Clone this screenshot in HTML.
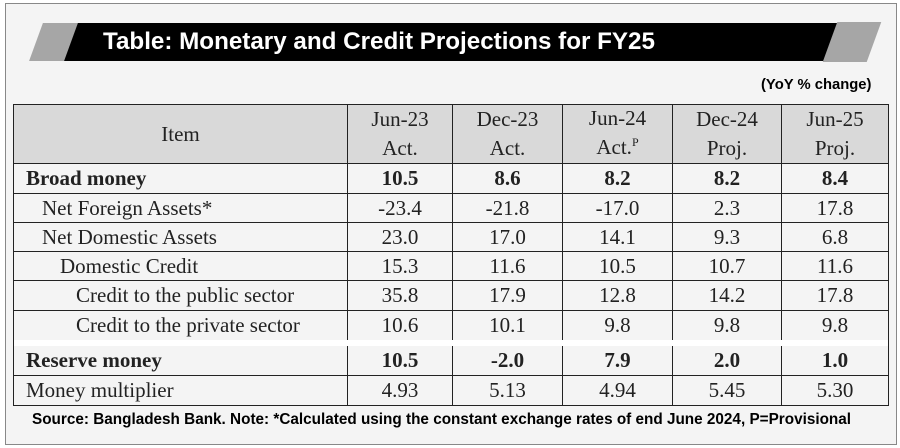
<!DOCTYPE html>
<html><head><meta charset="utf-8"><style>
body{margin:0;width:900px;height:448px;background:#fff;position:relative;overflow:hidden;font-family:"Liberation Serif",serif}
.box{position:absolute;left:5px;top:3px;width:890px;height:440px;border:1px solid #888;background:#f4f4f4}
.bar{position:absolute;left:71px;top:23px;width:760px;height:38px;background:#000;transform:skewX(-20deg)}
.g1{position:absolute;left:36px;top:23px;width:40px;height:38px;background:#a6a6a6;transform:skewX(-20deg)}
.g2{position:absolute;left:830px;top:22px;width:44px;height:40px;background:#a6a6a6;transform:skewX(-20deg)}
.title{position:absolute;left:103px;top:28px;color:#fff;font:bold 24.2px "Liberation Sans",sans-serif}
.yoy{position:absolute;left:761px;top:77px;font:bold 14.8px "Liberation Sans",sans-serif}
.src{position:absolute;left:32px;top:411px;font:bold 15.3px "Liberation Sans",sans-serif}
.c{position:absolute;border:1px solid #222;box-sizing:border-box;font-size:21px;color:#222;display:flex;align-items:center;justify-content:center;line-height:29px;text-align:center}
.l{justify-content:flex-start}
.h{background:#d9d9d9}
.b{font-weight:bold}
</style></head><body>
<div class="box"></div>
<div class="g1"></div><div class="bar"></div><div class="g2"></div>
<div class="title">Table: Monetary and Credit Projections for FY25</div>
<div class="yoy">(YoY % change)</div>
<div id="t"></div>
<div class="src">Source: Bangladesh Bank. Note: *Calculated using the constant exchange rates of end June 2024, P=Provisional</div>
<script>
var cols=[13,347,452,562,672,781,888];
var rows=[[104,163],[163,193],[193,222],[222,251],[251,280],[280,310],[310,340],[345,375],[375,405]];
var data=[
["Item","Jun-23<br>Act.","Dec-23<br>Act.","Jun-24<br>Act.<span style='font-size:12px;position:relative;top:-8px'>P</span>","Dec-24<br>Proj.","Jun-25<br>Proj."],
["Broad money","10.5","8.6","8.2","8.2","8.4"],
["Net Foreign Assets*","-23.4","-21.8","-17.0","2.3","17.8"],
["Net Domestic Assets","23.0","17.0","14.1","9.3","6.8"],
["Domestic Credit","15.3","11.6","10.5","10.7","11.6"],
["Credit to the public sector","35.8","17.9","12.8","14.2","17.8"],
["Credit to the private sector","10.6","10.1","9.8","9.8","9.8"],
["Reserve money","10.5","-2.0","7.9","2.0","1.0"],
["Money multiplier","4.93","5.13","4.94","5.45","5.30"]];
var ind=[0,12,28,28,46,62,62,12,12];
var h="";
for(var r=0;r<rows.length;r++){for(var c=0;c<6;c++){
var cls="c"+(r==0?" h":"")+(r==1||r==7?" b":"")+(c==0&&r>0?" l":"");
var st="left:"+cols[c]+"px;top:"+rows[r][0]+"px;width:"+(cols[c+1]-cols[c]+1)+"px;height:"+(rows[r][1]-rows[r][0]+1)+"px;";
if(c==0&&r>0)st+="padding-left:"+ind[r]+"px;";
h+="<div class='"+cls+"' style='"+st+"'><div>"+data[r][c]+"</div></div>";}}
h+="<div style='position:absolute;left:13px;top:340px;width:876px;height:6px;background:#fff;border-left:1px solid #222;border-right:1px solid #222;box-sizing:border-box'></div>";
document.getElementById("t").innerHTML=h;
</script>
</body></html>
